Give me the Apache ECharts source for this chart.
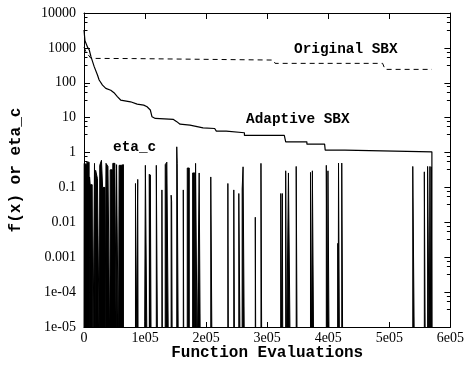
<!DOCTYPE html>
<html>
<head>
<meta charset="utf-8">
<script src="https://cdn.jsdelivr.net/npm/echarts@6/dist/echarts.min.js"></script>
<style>
html,body{margin:0;padding:0;background:#fff;}
#chart{width:467px;height:371px;}
</style>
</head>
<body>
<div id="chart"></div>
<script>
// ---- data ----
const LOW = 1e-6; // eta_c falls to ~0 (below the axis)

const xTickLabels = ['0', '1e05', '2e05', '3e05', '4e05', '5e05', '6e05'];
const yTickLabels = ['1e-05', '1e-04', '0.001', '0.01', '0.1', '1', '10', '100', '1000', '10000'];

// Adaptive SBX: best f(x)
const adaptiveX = [0, 1600, 6000, 8600, 11400, 16700, 22200, 24800, 30300, 35700, 43800, 49100, 54600, 60000,
  76200, 87100, 97800, 103300, 108600, 111400, 116700, 146500, 151900, 157300, 173500, 176300, 195000, 214000,
  216700, 232900, 232900, 262700, 262700, 328000, 330300, 365000, 365000, 394000, 395000, 427000, 427000, 569700, 569700];
const adaptiveY = [3250, 1600, 1030, 870, 560, 290, 165, 120, 86, 69, 61, 52, 40, 32,
  28.5, 24.5, 22.9, 20.5, 16.6, 10.6, 9.5, 8.9, 7.7, 6.5, 6.1, 5.5, 5.1, 4.9,
  4.1, 4.1, 3.7, 3.7, 3.1, 3.1, 2.03, 2.03, 1.74, 1.74, 1.17, 1.17, 1.05, 1.05, LOW];

// Original SBX: best f(x)
const originalX = [0, 3000, 11400, 80000, 82000, 310000, 313000, 489000, 493000, 569700];
const originalY = [1050, 780, 500, 494, 448, 448, 360, 360, 242, 242];

// eta_c: value holds from each x until the next x
const etaX = [0, 300, 3000, 4600, 8400, 9100, 10100, 13400, 14600, 17200, 18500, 19000, 22000, 25200, 25800, 28600, 30500, 34400,
  36000, 39200, 42400, 42900, 46400, 47200, 50600, 53000, 53300, 56400, 57500, 61000, 64600,
  84300, 85000, 88000, 88600, 99400, 100500, 103300, 107000, 107600, 108600, 110000, 118400, 120500,
  127600, 128400, 133000, 135700, 138300, 142700, 143500, 144500, 151900, 152600, 154500,
  162600, 163400, 169100, 172400, 177900, 181600, 182700, 185400, 188600, 190500,
  207600, 209700, 235600, 236400, 245300, 246500, 253500, 255700, 259000, 260500, 262700,
  280500, 281300, 289800, 291100, 322200, 323000, 324800, 325600, 330300, 331600, 334800, 337800,
  347500, 349100, 370900, 373000, 374000, 376200, 396800, 398500, 399500, 401500,
  415600, 416200, 416800, 418400, 422100, 423700, 538400, 541100, 557300, 558900,
  562700, 565400, 566500, 568000, 568700, 569700, 580000];
const etaY = [LOW, 0.49, 0.45, 0.53, LOW, 0.2, 0.12, 0.12, LOW, 0.49, LOW, 0.31, 0.18, LOW, 0.43, 0.6, 0.1, LOW,
  0.49, 0.4, LOW, 0.32, LOW, 0.49, 0.35, LOW, 0.45, LOW, 0.43, 0.45, LOW,
  0.13, LOW, 0.17, LOW, 1.4e-5, 0.43, LOW, 0.24, LOW, 0.23, LOW, 0.43, LOW,
  0.085, LOW, 0.45, 0.53, LOW, 0.06, 0.04, LOW, 1.46, 0.49, LOW,
  0.085, LOW, 0.36, LOW, 0.26, LOW, 0.49, LOW, 0.26, LOW,
  0.2, LOW, 0.13, LOW, 0.085, LOW, 0.067, LOW, 0.09, 0.39, LOW,
  0.014, LOW, 0.49, LOW, 0.067, LOW, 0.067, LOW, 0.3, LOW, 0.26, LOW,
  0.4, LOW, 0.27, LOW, 0.3, LOW, 0.43, LOW, 0.3, LOW,
  0.0025, LOW, 0.5, LOW, 0.5, LOW, 0.4, LOW, 0.28, LOW,
  0.4, LOW, 0.4, LOW, 0.39, LOW, LOW];

const zip = (xs, ys) => xs.map((x, i) => [x, ys[i]]);

const serif = 'Liberation Serif';
const mono = 'Liberation Mono';

function xAxisCfg(pos, tickLen, extra) {
  return Object.assign({
    type: 'value', min: 0, max: 600000, interval: 100000, position: pos,
    axisLine: { show: true, onZero: false, lineStyle: { color: '#000', width: 1 } },
    axisTick: { show: true, inside: true, length: tickLen, lineStyle: { color: '#000', width: 1 } },
    splitLine: { show: false }
  }, extra);
}
function yAxisCfg(pos, extra) {
  return Object.assign({
    type: 'log', logBase: 10, min: 1e-5, max: 1e4, splitNumber: 9, position: pos,
    axisLine: { show: true, onZero: false, lineStyle: { color: '#000', width: 1 } },
    axisTick: { show: true, inside: true, length: 6, lineStyle: { color: '#000', width: 1 } },
    minorTick: { show: true, splitNumber: 4, length: 3.5, lineStyle: { color: '#000', width: 1 } },
    splitLine: { show: false }
  }, extra);
}

const chart = echarts.init(document.getElementById('chart'), null, { renderer: 'canvas' });
chart.setOption({
  animation: false,
  backgroundColor: '#fff',
  grid: { left: 83, right: 14, top: 13, bottom: 44 },
  xAxis: [
    xAxisCfg('bottom', 5, {
      name: 'Function Evaluations', nameLocation: 'middle', nameGap: 18, nameMoveOverlap: false,
      nameTextStyle: { fontFamily: mono, fontWeight: 'bold', fontSize: 16, color: '#000' },
      axisLabel: { margin: 4, fontFamily: serif, fontSize: 14, color: '#000',
        formatter: v => xTickLabels[Math.round(v / 100000)] }
    }),
    xAxisCfg('top', 6, { axisLabel: { show: false } })
  ],
  yAxis: [
    yAxisCfg('left', {
      name: 'f(x) or eta_c', nameLocation: 'middle', nameGap: 60, nameMoveOverlap: false,
      nameTextStyle: { fontFamily: mono, fontWeight: 'bold', fontSize: 16, color: '#000' },
      axisLabel: { margin: 8, fontFamily: serif, fontSize: 14, color: '#000',
        formatter: v => yTickLabels[Math.round(Math.log10(v)) + 5] }
    }),
    yAxisCfg('right', { axisLabel: { show: false } })
  ],
  series: [
    {
      name: 'eta_c', type: 'line', xAxisIndex: 0, yAxisIndex: 0,
      data: zip(etaX, etaY), step: 'end', showSymbol: false, symbol: 'none', clip: true,
      lineStyle: { color: '#000', width: 1 },
      areaStyle: { color: '#000', opacity: 1, origin: 'start' },
      z: 2
    },
    {
      name: 'Adaptive SBX', type: 'line', xAxisIndex: 0, yAxisIndex: 0,
      data: zip(adaptiveX, adaptiveY), showSymbol: false, symbol: 'none', clip: true,
      lineStyle: { color: '#000', width: 1.2 }, z: 3
    },
    {
      // drawn on the mirrored (top/right) axes, which share the exact same scales
      name: 'Original SBX', type: 'line', xAxisIndex: 1, yAxisIndex: 1,
      data: zip(originalX, originalY), showSymbol: false, symbol: 'none', clip: true,
      lineStyle: { color: '#000', width: 1, type: [5, 4] }, z: 3
    }
  ],
  graphic: [
    { type: 'text', left: 294, top: 42, style: { text: 'Original SBX', font: 'bold 14.4px "Liberation Mono"', fill: '#000' } },
    { type: 'text', left: 246, top: 112, style: { text: 'Adaptive SBX', font: 'bold 14.4px "Liberation Mono"', fill: '#000' } },
    { type: 'text', left: 113, top: 140, style: { text: 'eta_c', font: 'bold 14.4px "Liberation Mono"', fill: '#000' } }
  ]
});
</script>
</body>
</html>
